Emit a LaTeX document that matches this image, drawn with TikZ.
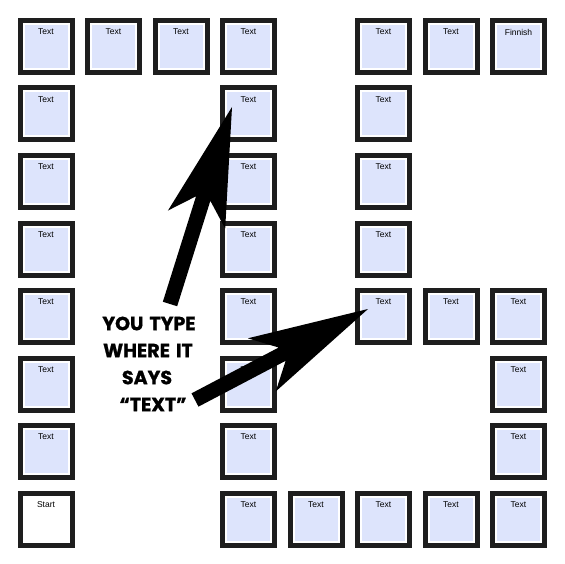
\documentclass[tikz,border=0pt]{standalone}
\usepackage{fontspec}
\setmainfont{Liberation Sans}
\newfontfamily\bigfont{Poppins}[BoldFeatures={FakeBold=1.2}]
\usetikzlibrary{calc}
\definecolor{frame}{RGB}{30,30,30}
\definecolor{cellblue}{RGB}{221,228,252}
\begin{document}
\begin{tikzpicture}[x=1pt,y=-1pt,
  lbl/.style={font=\fontsize{8.5}{9}\selectfont, anchor=center, yshift=-14pt, inner sep=0pt},
  cellbase/.style={draw=frame, line width=5pt, fill=white, minimum size=52pt, inner sep=0pt},
  cell/.style={cellbase, path picture={\fill[cellblue] ($(path picture bounding box.south west)+(4.5pt,4.5pt)$) rectangle ($(path picture bounding box.north east)+(-4.5pt,-4.5pt)$);}},
  bigtxt/.style={font=\bigfont\bfseries\fontsize{19}{19}\selectfont, inner sep=0pt},
  arrowfill/.style={fill=black}
]
\fill[white] (0,0) rectangle (564,564);
\useasboundingbox (0,0) rectangle (564,564);
\foreach \r/\c in {0/0,0/1,0/2,0/3,0/5,0/6,
                   1/0,1/3,1/5, 2/0,2/3,2/5, 3/0,3/3,3/5,
                   4/0,4/3,4/5,4/6,4/7,
                   5/0,5/3,5/7, 6/0,6/3,6/7,
                   7/3,7/4,7/5,7/6,7/7}
  \node[cell, label={[lbl]north:Text}] (c\r\c) at ({46+67.5*\c},{46.5+67.5*\r}) {};
\node[cell, label={[lbl]north:Finnish}] (c07) at ({46+67.5*7},46.5) {};
\node[cellbase, label={[lbl]north:Start}] (c70) at (46,519) {};

% text
\node[bigtxt] (t1) at (149,323.5) {YOU\hspace{2pt} TYPE};
\node[bigtxt] (t2) at (148,350.5) {WHERE\hspace{2pt} IT};
\node[bigtxt] (t3) at (147,377.5) {SAYS};
\node[bigtxt] (t4) at (153,404.5) {“TEXT”};

% arrow 1
\coordinate (tipA) at (232,107);
\coordinate (tailA) at (170,304);
\coordinate (jA) at ($(tipA)!96pt!(tailA)$);
\coordinate (wA) at ($(tipA)!118pt!(tailA)$);
\fill[arrowfill] ($(tailA)!7.5pt!90:(tipA)$) -- ($(jA)!7.5pt!90:(tipA)$) -- ($(wA)!30pt!90:(tipA)$)
  -- (tipA) -- ($(wA)!30pt!-90:(tipA)$) -- ($(jA)!7.5pt!-90:(tipA)$) -- ($(tailA)!7.5pt!-90:(tipA)$) -- cycle;

% arrow 2
\coordinate (tipB) at (368,309);
\coordinate (tailB) at (195,400);
\coordinate (jB) at ($(tipB)!97pt!(tailB)$);
\coordinate (wB) at ($(tipB)!120pt!(tailB)$);
\fill[arrowfill] ($(tailB)!7.5pt!90:(tipB)$) -- ($(jB)!7.5pt!90:(tipB)$) -- ($(wB)!30pt!90:(tipB)$)
  -- (tipB) -- ($(wB)!30pt!-90:(tipB)$) -- ($(jB)!7.5pt!-90:(tipB)$) -- ($(tailB)!7.5pt!-90:(tipB)$) -- cycle;
\end{tikzpicture}
\end{document}
